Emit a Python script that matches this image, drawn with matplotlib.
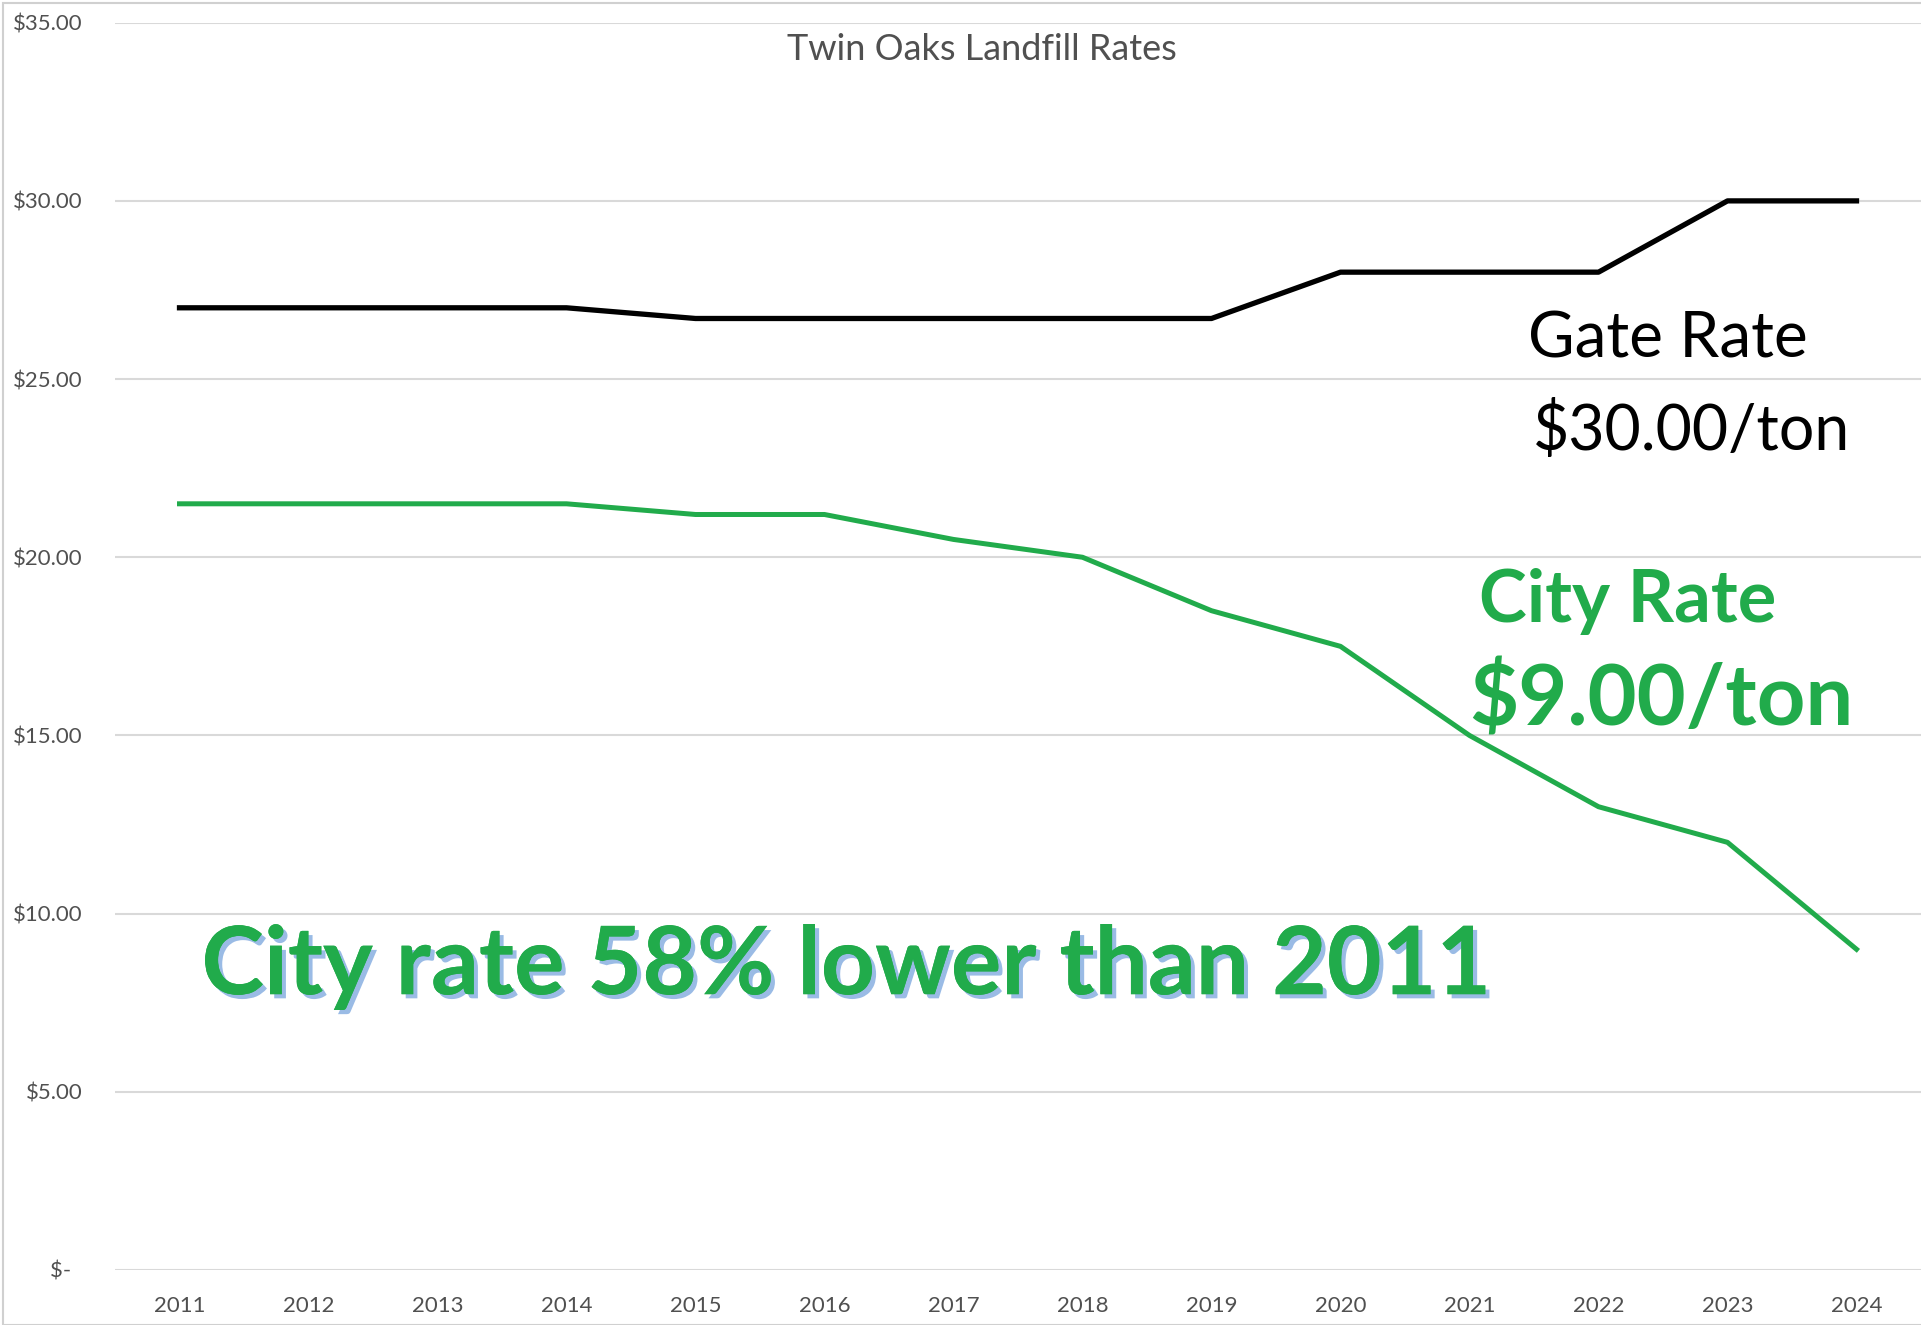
#Twin Oaks landfill rates, gate rate vs city rate 2011-2024
import matplotlib
matplotlib.use('Agg')
import matplotlib.pyplot as plt
import matplotlib.patheffects as pe
from matplotlib.patches import Rectangle

years = [2011, 2012, 2013, 2014, 2015, 2016, 2017, 2018, 2019, 2020, 2021, 2022, 2023, 2024]
gate_rate = [27.0, 27.0, 27.0, 27.0, 26.7, 26.7, 26.7, 26.7, 26.7, 28.0, 28.0, 28.0, 30.0, 30.0]
city_rate = [21.5, 21.5, 21.5, 21.5, 21.2, 21.2, 20.5, 20.0, 18.5, 17.5, 15.0, 13.0, 12.0, 9.0]
y_ticks = [0, 5, 10, 15, 20, 25, 30, 35]
y_labels = ['$-  ', '$5.00', '$10.00', '$15.00', '$20.00', '$25.00', '$30.00', '$35.00']

green = '#21ab4b'
grey_txt = '#505050'
plt.rcParams['font.family'] = ['Lato', 'DejaVu Sans']

fig = plt.figure(figsize=(19.21, 13.25), dpi=100)
ax = fig.add_axes([115/1921, 55/1325, 1806/1921, 1247.3/1325])

ax.plot(years, gate_rate, c='black', lw=3.8, zorder=3)
ax.plot(years, city_rate, c=green, lw=3.6, zorder=3)

ax.set_xlim(2010.5, 2024.5)
ax.set_ylim(0, 35)
ax.set_xticks(years)
ax.set_xticklabels([str(y) for y in years])
ax.set_yticks(y_ticks)
ax.set_yticklabels(y_labels)
ax.tick_params(axis='both', length=0, labelsize=16, colors=grey_txt)
ax.tick_params(axis='y', pad=23)
ax.tick_params(axis='x', pad=19)
ax.grid(axis='y', color='#d9d9d9', lw=1.5, zorder=0)
for s in ax.spines.values():
  s.set_visible(False)

fig.text(982/1921, 1-60/1325, 'Twin Oaks Landfill Rates', ha='center', va='baseline',
         fontsize=26, color=grey_txt)

#annotations
ax.text(2021.45, 25.6, 'Gate Rate', fontsize=46, color='black', va='baseline')
ax.text(2021.49, 23.0, '$30.00/ton', fontsize=45, color='black', va='baseline')
ax.text(2021.07, 18.17, 'City Rate', fontsize=52, color=green, weight='bold', va='baseline')
ax.text(2021.0, 15.27, '$9.00/ton', fontsize=61, color=green, weight='bold', va='baseline')
ax.text(2011.17, 7.74, 'City rate 58% lower than 2011', fontsize=68, color=green, weight='bold',
        va='baseline', zorder=5,
        path_effects=[pe.withSimplePatchShadow(offset=(3, -3), shadow_rgbFace='#8fb4e3', alpha=0.9),
                      pe.Normal()])

fig.patches.append(Rectangle((3/1921, 0), 1, 1-3/1325, transform=fig.transFigure,
                             fill=False, ec='#d0d0d0', lw=1.5))

fig.savefig('out.png', dpi=100)
